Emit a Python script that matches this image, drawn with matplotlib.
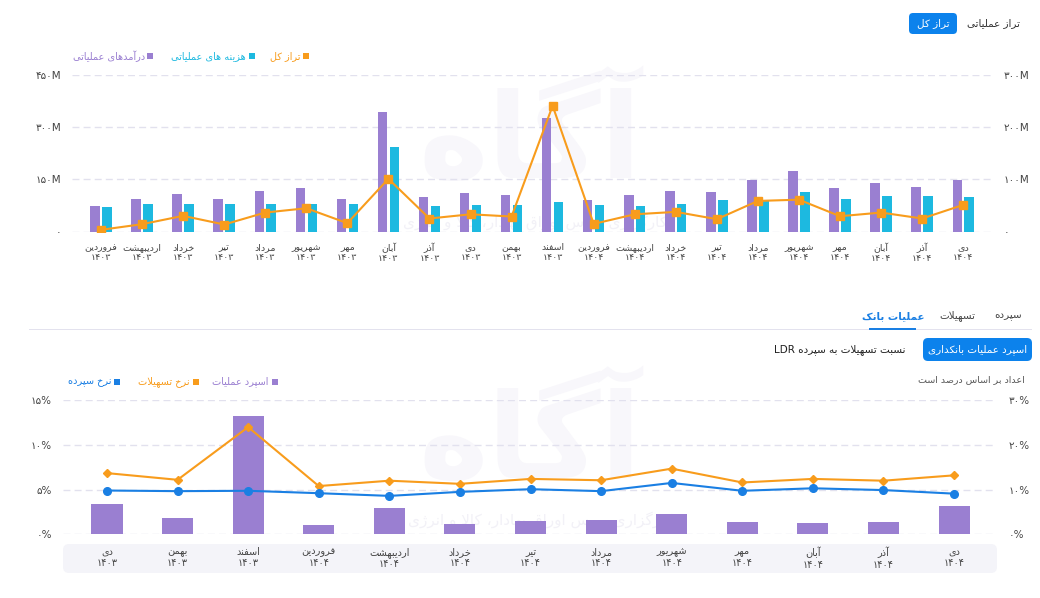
import matplotlib
matplotlib.use("Agg")
import matplotlib.pyplot as plt
from matplotlib.patches import FancyBboxPatch, Rectangle
from matplotlib.transforms import Affine2D
import numpy as np

plt.rcParams['font.family'] = ['DejaVu Sans']

# ---- data ----
months_top = ['فروردین', 'اردیبهشت', 'خرداد', 'تیر', 'مرداد', 'شهریور', 'مهر', 'آبان', 'آذر', 'دی', 'بهمن', 'اسفند',
              'فروردین', 'اردیبهشت', 'خرداد', 'تیر', 'مرداد', 'شهریور', 'مهر', 'آبان', 'آذر', 'دی']
years_top = ['۱۴۰۳'] * 12 + ['۱۴۰۴'] * 10
income = [73.6, 92.8, 108, 94.7, 117.6, 124, 94.7, 345, 98.5, 110, 105, 326,
          90, 105, 117.6, 113, 147, 175, 124, 140.6, 127, 149]
costs = [71.7, 78.4, 78, 80, 80, 80, 78, 244, 73.6, 75.5, 75.5, 85,
         75.5, 73.6, 80, 90, 88, 115, 94.7, 103, 103, 99.5]
balance = [3.2, 14, 30, 13.4, 36.3, 44.6, 16, 101, 24.9, 33, 28.7, 241,
           14.6, 33, 37.6, 23.6, 58.6, 61, 29.3, 36.3, 24.9, 51]
left_ticks_top = [0, 150, 300, 450]
left_labels_top = ['۰', '۱۵۰M', '۳۰۰M', '۴۵۰M']
right_ticks_top = [0, 100, 200, 300]
right_labels_top = ['۰', '۱۰۰M', '۲۰۰M', '۳۰۰M']

months_bot = ['دی', 'بهمن', 'اسفند', 'فروردین', 'اردیبهشت', 'خرداد', 'تیر', 'مرداد', 'شهریور', 'مهر', 'آبان', 'آذر', 'دی']
years_bot = ['۱۴۰۳'] * 3 + ['۱۴۰۴'] * 10
spread = [3.4, 1.87, 13.2, 1.05, 2.9, 1.16, 1.5, 1.6, 2.3, 1.35, 1.27, 1.35, 3.2]
loan_rate = [13.7, 12.2, 24, 10.8, 12, 11.3, 12.4, 12.1, 14.7, 11.6, 12.4, 12, 13.2]
deposit_rate = [9.8, 9.66, 9.74, 9.2, 8.6, 9.5, 10.1, 9.66, 11.5, 9.74, 10.3, 9.9, 9.1]
left_ticks_bot = [0, 5, 10, 15]
left_labels_bot = ['۰%', '۵%', '۱۰%', '۱۵%']
right_ticks_bot = [0, 10, 20, 30]
right_labels_bot = ['۰%', '۱۰%', '۲۰%', '۳۰%']

PURPLE = '#9a7fd1'
CYAN = '#1db9e0'
ORANGE = '#f89c1c'
BLUE = '#1a7fe3'
BTN = '#0c82ec'
GRID = '#e2e1ee'

# ---- simple persian shaping (matplotlib has no arabic shaping) ----
FORMS = {
    'ا': (0xFE8D, 0xFE8E), 'آ': (0xFE81, 0xFE82), 'د': (0xFEA9, 0xFEAA), 'ذ': (0xFEAB, 0xFEAC),
    'ر': (0xFEAD, 0xFEAE), 'ز': (0xFEAF, 0xFEB0), 'ژ': (0xFB8A, 0xFB8B), 'و': (0xFEED, 0xFEEE),
    'ب': (0xFE8F, 0xFE90, 0xFE91, 0xFE92), 'پ': (0xFB56, 0xFB57, 0xFB58, 0xFB59),
    'ت': (0xFE95, 0xFE96, 0xFE97, 0xFE98), 'ث': (0xFE99, 0xFE9A, 0xFE9B, 0xFE9C),
    'ج': (0xFE9D, 0xFE9E, 0xFE9F, 0xFEA0), 'چ': (0xFB7A, 0xFB7B, 0xFB7C, 0xFB7D),
    'ح': (0xFEA1, 0xFEA2, 0xFEA3, 0xFEA4), 'خ': (0xFEA5, 0xFEA6, 0xFEA7, 0xFEA8),
    'س': (0xFEB1, 0xFEB2, 0xFEB3, 0xFEB4), 'ش': (0xFEB5, 0xFEB6, 0xFEB7, 0xFEB8),
    'ص': (0xFEB9, 0xFEBA, 0xFEBB, 0xFEBC), 'ع': (0xFEC9, 0xFECA, 0xFECB, 0xFECC),
    'غ': (0xFECD, 0xFECE, 0xFECF, 0xFED0), 'ف': (0xFED1, 0xFED2, 0xFED3, 0xFED4),
    'ق': (0xFED5, 0xFED6, 0xFED7, 0xFED8), 'ک': (0xFB8E, 0xFB8F, 0xFB90, 0xFB91),
    'گ': (0xFB92, 0xFB93, 0xFB94, 0xFB95), 'ل': (0xFEDD, 0xFEDE, 0xFEDF, 0xFEE0),
    'م': (0xFEE1, 0xFEE2, 0xFEE3, 0xFEE4), 'ن': (0xFEE5, 0xFEE6, 0xFEE7, 0xFEE8),
    'ه': (0xFEE9, 0xFEEA, 0xFEEB, 0xFEEC), 'ی': (0xFBFC, 0xFBFD, 0xFBFE, 0xFBFF),
}
LAMALEF = {'ا': (0xFEFB, 0xFEFC), 'آ': (0xFEF5, 0xFEF6)}


def fa(text):
    out = []
    i = 0
    while i < len(text):
        c = text[i]
        prev = text[i - 1] if i > 0 else None
        nxt = text[i + 1] if i + 1 < len(text) else None
        if c not in FORMS:
            out.append(c)
            i += 1
            continue
        jp = prev in FORMS and len(FORMS[prev]) == 4
        if c == 'ل' and nxt in LAMALEF:
            out.append(chr(LAMALEF[nxt][1 if jp else 0]))
            i += 2
            continue
        f = FORMS[c]
        jn = len(f) == 4 and nxt in FORMS
        if jp and jn:
            g = f[3]
        elif jp:
            g = f[1]
        elif jn:
            g = f[2]
        else:
            g = f[0]
        out.append(chr(g))
        i += 1
    return ''.join(reversed(out))


W, H = 1040, 598
fig = plt.figure(figsize=(W / 100, H / 100), dpi=100)
PX = Affine2D().scale(1 / W, 1 / H) + fig.transFigure


def fx(x):
    return x / W


def fy(y):
    return 1 - y / H


def box(x0, y0, x1, y1, color, r=5):
    p = FancyBboxPatch((x0 + r, H - y1 + r), x1 - x0 - 2 * r, y1 - y0 - 2 * r,
                       boxstyle=f"round,pad={r}", transform=PX, fc=color, ec='none', zorder=0)
    fig.add_artist(p)


def square(x, y, color, s=6):
    fig.add_artist(Rectangle((x - s / 2, H - y - s / 2), s, s, transform=PX, fc=color, ec='none'))


# ---- faint watermark ----
for wy in [145, 445]:
    fig.text(fx(530), fy(wy), fa('آگاه'), fontsize=85, fontweight='bold', color='#f8f7fb',
             ha='center', va='center', zorder=-1)
fig.text(fx(535), fy(222), fa('کارگزاری بورس اوراق بهادار، کالا و انرژی'), fontsize=11,
         color='#f2f1f7', ha='center', va='center', zorder=-1)
fig.text(fx(540), fy(520), fa('کارگزاری بورس اوراق بهادار، کالا و انرژی'), fontsize=11,
         color='#f2f1f7', ha='center', va='center', zorder=-1)

# ---- header of top chart ----
box(909, 13, 957, 34, BTN, r=4)
fig.text(fx(933), fy(23.5), fa('تراز کل'), fontsize=7.5, color='white', ha='center', va='center')
fig.text(fx(1020), fy(23), fa('تراز عملیاتی'), fontsize=7.5, color='#333333', ha='right', va='center')

for sx, tx, label, col in [(150, 145, 'درآمدهای عملیاتی', PURPLE), (252, 246, 'هزینه های عملیاتی', CYAN),
                           (306, 300, 'تراز کل', ORANGE)]:
    square(sx, 56, col)
    fig.text(fx(tx), fy(56), fa(label), fontsize=7, color=col, ha='right', va='center')

# ---- top chart ----
ax1 = fig.add_axes([fx(72), fy(231.5), (994 - 72) / W, (231.5 - 75) / H])
ax1.set_facecolor('none')
x1 = np.arange(len(months_top))
ax1.bar(x1 - 0.145, income, width=0.23, color=PURPLE, zorder=2)
ax1.bar(x1 + 0.145, costs, width=0.23, color=CYAN, zorder=2)
ax1.set_xlim(-0.706, 21.75)
ax1.set_ylim(0, 450)
ax1.set_yticks(left_ticks_top, left_labels_top)
ax1.set_xticks(x1, [fa(m) + '\n' + y for m, y in zip(months_top, years_top)])
ax1.tick_params(axis='x', length=0, pad=8, labelsize=6.8, labelcolor='#444444')
ax1.tick_params(axis='y', length=0, pad=8, labelsize=7.5, labelcolor='#444444')
ax1.grid(axis='y', color=GRID, linestyle=(0, (5, 3)), linewidth=1, zorder=0)
for s in ax1.spines.values():
    s.set_visible(False)

ax1r = ax1.twinx()
ax1r.plot(x1, balance, color=ORANGE, linewidth=1.5, marker='s', markersize=6, zorder=3)
ax1r.set_ylim(0, 300)
ax1r.set_yticks(right_ticks_top, right_labels_top)
ax1r.tick_params(axis='y', length=0, pad=7, labelsize=7.5, labelcolor='#444444')
for s in ax1r.spines.values():
    s.set_visible(False)

# ---- tabs / header of bottom chart ----
fig.add_artist(Rectangle((29, H - 330), 1003, 1.2, transform=PX, fc='#e3e2ee', ec='none'))
fig.add_artist(Rectangle((869, H - 330), 47, 2, transform=PX, fc=BLUE, ec='none'))
fig.text(fx(893), fy(316), fa('عملیات بانک'), fontsize=7.5, color=BLUE, fontweight='bold', ha='center', va='center')
fig.text(fx(957), fy(316), fa('تسهیلات'), fontsize=7.5, color='#444444', ha='center', va='center')
fig.text(fx(1008), fy(316), fa('سپرده'), fontsize=7.5, color='#444444', ha='center', va='center')

box(923, 338, 1032, 361, BTN, r=5)
fig.text(fx(977.5), fy(349.5), fa('اسپرد عملیات بانکداری'), fontsize=7.5, color='white',
         ha='center', va='center')
fig.text(fx(905), fy(349.5), 'LDR ' + fa('نسبت تسهیلات به سپرده'), fontsize=7.5, color='#222222',
         ha='right', va='center')
fig.text(fx(1025), fy(380), fa('اعداد بر اساس درصد است'), fontsize=6.8, color='#555555', ha='right', va='center')

for sx, tx, label, col in [(275, 268, 'اسپرد عملیات', PURPLE), (196, 190, 'نرخ تسهیلات', ORANGE),
                           (117, 112, 'نرخ سپرده', BLUE)]:
    square(sx, 382, col)
    fig.text(fx(tx), fy(382), fa(label), fontsize=7, color=col, ha='right', va='center')

# ---- bottom chart ----
box(63, 544, 997, 573, '#f4f4f9', r=6)
ax2 = fig.add_axes([fx(63), fy(534.3), (995 - 63) / W, (534.3 - 400.3) / H])
ax2.set_facecolor('none')
x2 = np.arange(len(months_bot))
ax2.bar(x2, spread, width=0.44, color=PURPLE, zorder=2)
ax2.set_xlim(-0.623, 12.58)
ax2.set_ylim(0, 15)
ax2.set_yticks(left_ticks_bot, left_labels_bot)
ax2.set_xticks(x2, [fa(m) + '\n' + y for m, y in zip(months_bot, years_bot)])
ax2.tick_params(axis='x', length=0, pad=9, labelsize=7, labelcolor='#444444')
ax2.tick_params(axis='y', length=0, pad=8, labelsize=7.5, labelcolor='#444444')
ax2.grid(axis='y', color=GRID, linestyle=(0, (5, 3)), linewidth=1, zorder=0)
for s in ax2.spines.values():
    s.set_visible(False)

ax2r = ax2.twinx()
ax2r.plot(x2, loan_rate, color=ORANGE, linewidth=1.5, marker='D', markersize=4, zorder=3)
ax2r.plot(x2, deposit_rate, color=BLUE, linewidth=1.5, marker='o', markersize=5.5, zorder=3)
ax2r.set_ylim(0, 30)
ax2r.set_yticks(right_ticks_bot, right_labels_bot)
ax2r.tick_params(axis='y', length=0, pad=10, labelsize=7.5, labelcolor='#444444')
for s in ax2r.spines.values():
    s.set_visible(False)

fig.savefig('out.png', dpi=100)
